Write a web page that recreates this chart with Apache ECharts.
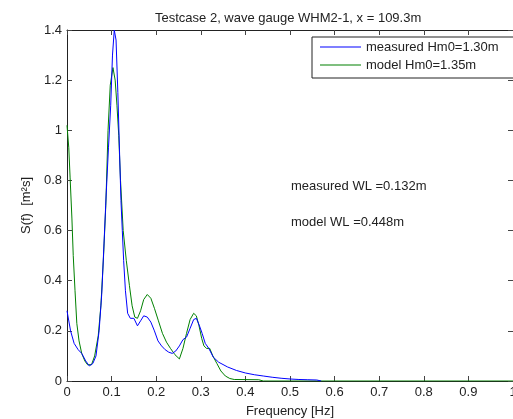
<!DOCTYPE html>
<html>
<head>
<meta charset="UTF-8" />
<title>Testcase 2, wave gauge WHM2-1</title>
<style>
  html, body { margin: 0; padding: 0; background: #fff; }
  #main { width: 513px; height: 419px; }
</style>
</head>
<body>
<div id="main"></div>
<script src="https://cdn.jsdelivr.net/npm/echarts@6/dist/echarts.min.js"></script>
<script>
// spectra: [frequency Hz, S(f)]
var measured = [
  [0, 0.28], [0.008, 0.2], [0.016, 0.15], [0.025, 0.125], [0.033, 0.11], [0.042, 0.08],
  [0.05, 0.06], [0.058, 0.07], [0.065, 0.1], [0.072, 0.2], [0.078, 0.35], [0.083, 0.55],
  [0.088, 0.75], [0.093, 0.93], [0.098, 1.1], [0.102, 1.3], [0.106, 1.4], [0.11, 1.36],
  [0.114, 1.15], [0.118, 0.9], [0.121, 0.72], [0.124, 0.6], [0.127, 0.48], [0.131, 0.36],
  [0.136, 0.27], [0.142, 0.25], [0.15, 0.25], [0.158, 0.22], [0.165, 0.24], [0.172, 0.26],
  [0.18, 0.255], [0.188, 0.235], [0.196, 0.2], [0.204, 0.16], [0.212, 0.14], [0.22, 0.125],
  [0.228, 0.115], [0.236, 0.11], [0.244, 0.12], [0.252, 0.14], [0.26, 0.165], [0.268, 0.175],
  [0.276, 0.21], [0.284, 0.245], [0.29, 0.25], [0.296, 0.225], [0.303, 0.19], [0.31, 0.15],
  [0.318, 0.13], [0.328, 0.095], [0.34, 0.075], [0.36, 0.056], [0.38, 0.042], [0.4, 0.032],
  [0.42, 0.025], [0.44, 0.02], [0.46, 0.015], [0.48, 0.011], [0.5, 0.008], [0.52, 0.006],
  [0.54, 0.005], [0.56, 0.004], [0.57, 0]
]
var model = [
  [0, 1.02], [0.004, 0.93], [0.007, 0.81], [0.011, 0.65], [0.014, 0.5], [0.018, 0.36],
  [0.022, 0.23], [0.027, 0.16], [0.033, 0.11], [0.04, 0.08], [0.046, 0.065], [0.05, 0.06],
  [0.055, 0.065], [0.062, 0.1], [0.07, 0.18], [0.076, 0.3], [0.082, 0.5], [0.087, 0.7],
  [0.092, 1.0], [0.097, 1.18], [0.103, 1.25], [0.108, 1.2], [0.112, 1.1], [0.116, 0.98],
  [0.12, 0.8], [0.126, 0.6], [0.133, 0.48], [0.14, 0.38], [0.146, 0.3], [0.152, 0.255],
  [0.158, 0.25], [0.165, 0.28], [0.172, 0.325], [0.18, 0.345], [0.188, 0.33], [0.196, 0.29],
  [0.205, 0.24], [0.214, 0.19], [0.223, 0.155], [0.232, 0.13], [0.242, 0.105], [0.252, 0.088],
  [0.26, 0.13], [0.268, 0.19], [0.276, 0.245], [0.284, 0.27], [0.29, 0.26], [0.296, 0.22],
  [0.302, 0.17], [0.307, 0.14], [0.313, 0.13], [0.32, 0.13], [0.327, 0.1], [0.336, 0.07],
  [0.345, 0.04], [0.355, 0.02], [0.365, 0.01], [0.375, 0.006], [0.43, 0.005], [0.44, 0], [1, 0]
]
var seriesNames = ['measured Hm0=1.30m', 'model Hm0=1.35m']
var seriesColors = ['#0000ff', '#008000']
var notes = ['measured WL =0.132m', 'model WL =0.448m']

var font = 'Liberation Sans, Arial, sans-serif'
var myChart = echarts.init(document.getElementById('main'))

function axisBase(show) {
  return {
    type: 'value',
    min: 0,
    axisLine: { show: true, onZero: false, lineStyle: { color: '#222', width: 1 } },
    axisTick: { show: true, inside: true, length: 5, lineStyle: { color: '#444' } },
    axisLabel: { show: show, color: '#222', fontFamily: font, fontSize: 13 },
    splitLine: { show: false }
  }
}

var xMain = axisBase(true)
xMain.max = 1
xMain.interval = 0.1
xMain.position = 'bottom'
xMain.axisLabel.margin = 5
xMain.name = 'Frequency [Hz]'
xMain.nameLocation = 'middle'
xMain.nameGap = 24
xMain.nameTextStyle = { color: '#222', fontFamily: font, fontSize: 13 }

var xTop = axisBase(false)
xTop.max = 1
xTop.interval = 0.1
xTop.position = 'top'

var yMain = axisBase(true)
yMain.max = 1.4
yMain.interval = 0.2
yMain.position = 'left'
yMain.axisLabel.margin = 5
yMain.name = 'S(f)  [m²s]'
yMain.nameLocation = 'middle'
yMain.nameGap = 21
yMain.nameTextStyle = { color: '#222', fontFamily: font, fontSize: 13 }

var yRight = axisBase(false)
yRight.max = 1.4
yRight.interval = 0.2
yRight.position = 'right'

var option = {
  backgroundColor: '#fff',
  animation: false,
  color: seriesColors,
  title: {
    text: 'Testcase 2, wave gauge WHM2-1, x = 109.3m',
    left: 150,
    top: 7,
    textStyle: { color: '#222', fontFamily: font, fontSize: 13, fontWeight: 'normal' }
  },
  grid: { left: 67, right: 0, top: 30, bottom: 38, outerBoundsMode: 'none' },
  legend: {
    orient: 'vertical',
    left: 312,
    top: 37,
    padding: [3, 20, 6, 8],
    itemGap: 4,
    itemWidth: 41,
    itemHeight: 14,
    borderColor: '#222',
    borderWidth: 1,
    backgroundColor: '#fff',
    textStyle: { color: '#222', fontFamily: font, fontSize: 13, lineHeight: 14 },
    data: seriesNames.map(function (n, i) {
      return {
        name: n,
        icon: 'path://M0,7L41,7L41,8L0,8Z',
        itemStyle: { color: seriesColors[i], borderWidth: 0 }
      }
    })
  },
  xAxis: [xMain, xTop],
  yAxis: [yMain, yRight],
  graphic: notes.map(function (t, i) {
    return {
      type: 'text',
      left: 291,
      top: 180 + i * 36,
      style: { text: t, fill: '#222', font: '13px ' + font }
    }
  }),
  series: [
    {
      name: seriesNames[0],
      type: 'line',
      data: measured,
      symbol: 'none',
      lineStyle: { color: seriesColors[0], width: 1 },
      z: 3
    },
    {
      name: seriesNames[1],
      type: 'line',
      data: model,
      symbol: 'none',
      lineStyle: { color: seriesColors[1], width: 1 },
      z: 2
    }
  ]
}
myChart.setOption(option)
</script>
</body>
</html>
